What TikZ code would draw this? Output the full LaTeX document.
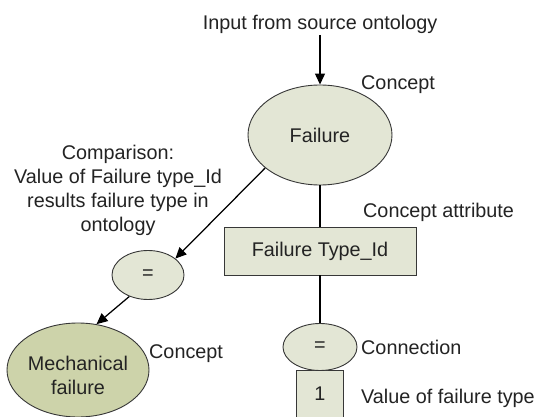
\documentclass[tikz,border=0pt]{standalone}
\usepackage{fontspec}
\setmainfont{Liberation Sans}
\usetikzlibrary{shapes.geometric,arrows.meta}
\definecolor{fillA}{RGB}{227,230,213}
\definecolor{fillB}{RGB}{205,211,170}
\definecolor{edgec}{RGB}{55,55,55}
\definecolor{txtc}{RGB}{35,35,35}
\begin{document}
\begin{tikzpicture}[x=1pt,y=-1pt,
  font=\fontsize{19.8}{24}\selectfont,
  ell/.style={ellipse, draw=edgec, line width=0.9pt, fill=fillA, inner sep=0pt, text=txtc},
  boxnode/.style={rectangle, draw=edgec, line width=0.9pt, fill=fillA, inner sep=0pt, text=txtc},
  lbl/.style={inner sep=0pt, text=txtc, text height=14pt, text depth=0pt},
  arr/.style={draw=black, line width=1.25pt, -{Triangle[length=11pt,width=10pt]}},
  conn/.style={draw=black, line width=1.1pt}]
\useasboundingbox (0,0) rectangle (541,417);
\fill[white] (0,0) rectangle (541,417);

% nodes
\node[ell, minimum width=144pt, minimum height=100pt] (fail) at (320,135) {\rule{0pt}{14pt}Failure};
\node[boxnode, minimum width=192pt, minimum height=48pt] (fti) at (320,251) {\rule{0pt}{14pt}Failure Type\_Id};
\node[ell, minimum width=72pt, minimum height=49pt] (eqL) at (148,275) {=};
\node[ell, fill=fillB, minimum width=142pt, minimum height=94pt, align=center] (mech) at (78,370) {\rule{0pt}{26pt}Mechanical\\failure};
\node[boxnode, minimum width=47pt, minimum height=64pt] (one) at (319.5,402) {};
\node[ell, minimum width=74pt, minimum height=47pt] (eqR) at (320,347) {=};
\node[lbl] (onetxt) at (320,393) {1};

% labels
\node[lbl] (input) at (320,23) {Input from source ontology};
\coordinate (inp) at (320,35);
\node[lbl, anchor=west] (cTop) at (361,83) {Concept};
\node[lbl, anchor=west] (cAttr) at (363,210) {Concept attribute};
\node[lbl, anchor=west] (cLeft) at (149,351) {Concept};
\node[lbl, anchor=west] (cConn) at (361,347) {Connection};
\node[lbl, anchor=west] (cVal) at (361,396) {Value of failure type};
\node[inner sep=0pt, text=txtc, align=center] (cmp) at (118,190) {Comparison:\\Value of Failure type\_Id\\results failure type in\\ontology};

% connectors
\draw[arr] (inp) -- (fail.north);
\draw[arr] (fail.211) -- (eqL.31);
\draw[arr] (eqL.229) -- (mech.68);
\draw[conn] (fail.south) -- (fti.north);
\draw[conn] (fti.south) -- (eqR.north);
\end{tikzpicture}
\end{document}
